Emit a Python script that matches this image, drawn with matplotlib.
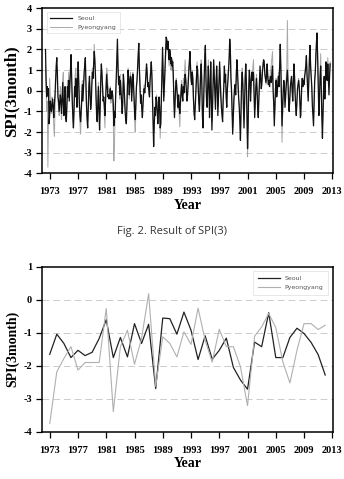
import numpy as np
import matplotlib
matplotlib.use('Agg')
import matplotlib.pyplot as plt

plt.rcParams['axes.unicode_minus'] = False

# monthly SPI(3), one row per 12 months (approximate)
seoul_monthly = [
    2.0, 0.5, -0.3, 0.2, -0.2, 0.1, -1.6, -1.2, -0.5, -0.8, -1.0, -0.6,
    -0.4, -0.9, -1.3, -0.6, -0.2, 0.5, 1.2, 1.6, 0.8, -0.3, -0.5, -1.0,
    -0.6, -0.2, -0.5, -1.1, -0.3, 0.4, -0.6, -1.2, -0.4, 0.2, -1.3, -1.5,
    -0.8, 0.2, -0.3, 0.5, -0.5, 0.3, 1.0, 1.75, 0.6, -0.4, -1.2, -1.8,
    -1.0, 0.2, -0.3, 0.6, 0.3, -0.8, 0.5, 1.4, 0.4, -0.6, -1.2, -1.5,
    -1.0, -0.3, 0.3, -0.5, 0.2, 0.9, 1.2, 1.6, 0.5, -0.7, -1.4, -1.8,
    -0.7, 0.2, 0.7, -0.2, -0.9, -0.6, 0.3, 0.9, 0.6, 1.2, 1.9, 1.5,
    0.8, -0.2, -1.2, -1.5, -0.6, 0.2, -1.0, -1.9, -0.8, 0.6, 1.3, 0.8,
    0.2, -0.5, -0.3, -0.7, -1.2, -0.5, 0.3, 0.8, 0.2, -0.3, -0.2, -0.4,
    -0.3, 0.1, -0.4, -0.3, 0.0, -0.2, -0.6, -1.7, -1.0, -1.3, -0.4, 0.6,
    1.6, 2.5, 1.2, 0.3, 0.7, -0.2, 0.5, 0.0, -0.5, -1.1, -0.6, 0.8,
    0.4, -0.3, -1.0, -1.4, -1.6, -0.8, 0.3, 1.0, 0.6, -0.2, 0.4, 0.7,
    0.6, -0.5, 0.2, 0.8, 0.4, -0.3, -1.0, -1.4, -0.6, 0.2, 0.5, 1.2,
    1.8, 2.3, 1.0, 0.2, -0.6, -0.2, -0.9, -1.3, -0.7, -0.2, 0.1, -0.1,
    0.3, 0.8, 1.3, 0.9, 0.2, 0.4, 0.0, -0.3, 0.5, 0.9, 1.4, 0.8,
    -0.4, -1.5, -2.7, -1.6, -0.8, -1.2, -0.3, -0.5, -1.0, -1.6, -0.9, -0.3,
    -0.8, -1.8, -1.6, -0.4, 1.0, 2.1, 0.8, -0.5, 0.2, 1.0, 1.8, 2.6,
    2.5, 2.0, 2.4, 1.9, 1.5, 2.0, 1.8, 1.3, 1.6, 1.2, 1.4, 0.8,
    -0.4, -1.3, -0.5, 0.2, 0.5, 0.1, -0.3, -0.8, -0.2, -0.7, -1.1, -0.6,
    -0.1, 0.3, -0.2, -0.5, 0.2, -0.1, 0.4, 0.8, 0.5, 0.0, -0.5, -0.2,
    0.3, 0.9, 1.4, 1.9, 1.2, 0.5, 0.3, 0.9, 0.6, -0.4, -1.0, -1.4,
    -0.8, -0.1, 0.6, 1.2, 1.0, 0.2, -0.6, -1.0, -0.2, 0.8, 1.3, 0.4,
    -1.2, -1.8, -0.5, 0.6, 1.6, 2.2, 0.5, -0.5, -0.8, 0.2, 1.2, 0.3,
    -1.3, -0.2, 1.4, -0.3, -1.9, -0.8, 0.4, 1.5, 0.7, -0.2, -0.9, 0.3,
    1.2, 0.2, -1.2, -0.3, 0.6, 1.4, 0.5, -0.3, -0.8, -1.2, -1.5, -0.4,
    0.2, 1.2, 0.4, 0.8, -0.3, -0.8, 0.1, 0.5, 1.0, 1.6, 2.5, 2.0,
    0.6, 0.0, -1.0, -2.1, -1.3, -0.4, 0.1, 0.3, -0.2, 0.6, 1.5, 1.0,
    0.3, -0.3, -0.8, -1.5, -2.4, -0.9, 0.4, 0.9, 0.3, -0.7, -1.8, -0.6,
    0.7, 1.3, 0.4, -1.2, -2.8, -1.6, 0.2, 1.0, 0.5, -0.5, 0.3, 0.9,
    0.5, 0.9, 0.8, -0.2, -1.3, -0.6, 0.2, 0.6, 0.0, -0.8, -1.3, -0.4,
    0.4, 1.2, 0.6, 0.1, 0.3, 0.9, 1.2, 1.5, 1.4, 0.8, 0.6, 0.4,
    0.8, 1.3, 0.6, 0.3, 0.5, 0.2, 0.6, 0.7, 0.4, 0.9, 1.2, 0.0,
    -0.6, -1.7, -0.8, 0.1, 0.5, -0.3, 0.0, 0.4, 0.7, 0.2, 1.3, 2.25,
    1.2, -0.3, -1.7, -0.9, 0.0, 0.5, 0.1, -0.8, -0.3, 0.2, 0.6, 1.0,
    0.4, -0.5, -1.0, -0.4, 0.2, 0.5, 0.7, 0.0, -0.5, 0.4, 1.3, 0.7,
    -0.2, -0.8, -1.2, -0.5, 0.1, 0.3, 0.5, 0.2, -0.5, -1.3, -0.7, 0.2,
    0.6, 0.2, 0.5, 0.3, 0.7, 0.9, 1.2, 1.7, 0.8, 0.1, -0.5, 0.4,
    1.5, 2.2, 1.2, 0.7, 0.2, -0.7, -1.2, -1.7, -0.6, 0.5, 0.9, 1.8,
    2.4, 2.8, 1.5, 0.4, -1.2, -0.4, 0.6, 1.2, 0.2, -1.3, -2.3, -1.0,
    0.2, 0.7, -0.4, 0.3, 1.4, 0.8, 0.5, 1.3, 0.6, -0.2, 0.7, 1.3,
]
pyeongyang_monthly = [
    1.2, 0.3, -1.0, -0.5, -3.7, -1.5, -0.8, 0.6, -0.2, -0.9, -1.1, -0.3,
    -0.5, -1.2, -1.8, -2.2, -0.9, 0.1, 0.9, 1.2, 0.5, -0.5, -0.8, -1.2,
    -0.3, 0.2, -0.8, -1.4, -0.2, 0.6, 0.9, -0.4, -0.8, 0.1, -1.0, -1.2,
    -0.5, 0.5, 0.2, 0.9, 0.0, 0.6, 0.8, 1.2, 0.3, -0.8, -1.5, -1.6,
    -0.7, 0.4, 0.8, 1.1, 0.5, -0.5, 0.3, 1.2, 0.2, -0.9, -1.6, -2.1,
    -1.3, -0.6, 0.5, -0.2, 0.4, 0.6, 0.9, 1.3, 0.1, -0.8, -1.2, -1.5,
    -0.9, 0.4, 0.5, 0.0, -0.6, -0.3, 0.6, 1.1, 0.8, 1.4, 2.25, 1.6,
    0.6, -0.4, -1.0, -1.3, -0.8, 0.4, -0.6, -1.6, -1.0, 0.3, 0.9, 1.0,
    0.4, -0.2, -0.6, -1.2, -1.8, -0.4, 0.7, 1.1, 0.9, 0.3, 0.1, -0.2,
    -0.1, 0.2, -0.6, -0.2, -0.1, -0.5, -1.2, -3.4, -2.6, -1.5, -0.2, 0.4,
    1.0, 2.0, 1.3, 0.5, 0.2, -0.4, 0.8, 0.3, -0.2, -0.9, -0.4, 0.5,
    0.2, -0.5, -0.9, -1.2, -1.3, -0.5, 0.6, 1.1, 0.4, -0.4, 0.5, 0.9,
    0.5, -0.3, 0.4, 0.9, 0.1, -0.8, -1.5, -2.0, -1.2, 0.1, 0.6, 1.0,
    1.3, 1.9, 1.2, 0.5, -0.3, -0.5, -0.6, -1.0, -0.4, 0.0, 0.3, 0.1,
    0.2, 0.6, 1.2, 1.0, 0.4, 0.1, -0.2, 0.2, 0.7, 1.1, 1.3, 0.6,
    -0.2, -1.0, -2.0, -1.8, -1.2, -0.8, -0.6, -0.2, -0.7, -1.4, -1.2, -0.6,
    -1.1, -2.3, -1.5, -0.2, 0.8, 1.6, 0.5, -0.3, -0.1, 0.8, 1.5, 2.3,
    2.2, 2.4, 2.1, 1.6, 1.2, 1.8, 1.5, 1.0, 1.2, 1.0, 1.5, 0.6,
    -0.2, -1.2, -0.8, 0.1, 0.6, 0.3, -0.5, -0.9, -0.6, -1.2, -1.75, -0.8,
    0.1, 0.5, -0.3, -0.2, 0.6, 0.2, 1.0, 1.5, 0.8, 0.1, -0.3, -0.4,
    0.5, 1.2, 1.0, 1.5, 0.9, 0.6, 0.7, 1.0, 0.2, -0.6, -1.2, -1.0,
    -0.5, 0.3, 0.9, 1.4, 0.8, -0.1, -0.5, -0.7, 0.3, 1.0, 1.5, 0.6,
    -0.9, -1.6, -0.8, 0.4, 1.2, 1.8, 0.9, -0.2, -0.6, 0.5, 1.5, 0.6,
    -0.8, 0.3, 1.0, 0.1, -1.5, -1.2, 0.2, 1.2, 1.0, 0.2, -0.6, 0.6,
    0.9, 0.4, -0.8, -0.5, 0.3, 1.1, 0.8, 0.0, -0.5, -1.0, -1.3, -0.6,
    0.0, 0.9, 0.6, 0.5, -0.1, -0.6, -0.1, 0.7, 1.2, 1.4, 2.2, 2.3,
    0.8, 0.2, -0.7, -1.8, -1.5, -0.7, -0.2, 0.2, 0.1, 0.9, 1.3, 0.7,
    0.1, -0.5, -0.6, -1.2, -2.0, -1.2, 0.2, 1.1, 0.6, -0.4, -1.4, -0.9,
    0.4, 1.0, 0.6, -0.9, -3.2, -1.9, -0.3, 0.8, 0.6, -0.3, 0.4, 0.7,
    0.7, 1.2, 1.5, 0.3, -0.9, -0.8, 0.0, 0.8, 0.3, -0.5, -1.0, -0.2,
    0.2, 0.8, 0.9, 0.4, 0.6, 1.1, 1.4, 1.3, 1.2, 1.0, 0.7, 0.3,
    0.6, 1.0, 0.9, 0.5, 0.7, 0.4, 0.8, 1.0, 1.3, 1.6, 1.9, 0.5,
    -0.3, -1.3, -1.0, -0.2, 0.6, 0.1, -0.2, 0.3, 0.9, 0.5, 1.0, 1.6,
    1.0, -0.8, -2.5, -1.2, -0.3, 0.3, 0.4, -0.5, -0.1, 0.5, 1.2, 3.4,
    1.1, -0.2, -0.8, -0.6, 0.1, 0.3, 0.5, 0.3, -0.3, 0.2, 1.0, 0.9,
    0.0, -0.5, -1.0, -0.7, -0.1, 0.4, 0.6, 0.0, -0.3, -1.0, -1.2, -0.2,
    0.4, 0.5, 0.2, 0.6, 0.4, 1.0, 1.4, 1.5, 1.0, 0.3, -0.3, 0.6,
    1.2, 2.0, 1.6, 0.8, 0.4, -0.3, -0.9, -1.3, -0.3, 0.6, 1.0, 1.5,
    2.0, 2.3, 1.8, 0.7, -0.8, -0.2, 0.9, 1.8, 0.6, -0.9, -1.7, -1.2,
    -0.3, 0.5, -0.1, 0.6, 1.2, 1.0, 0.8, 1.6, 1.0, 0.2, 0.9, 1.4,
]

# annual values
years = list(range(1973, 2013))
seoul_annual = [-1.65, -1.04, -1.32, -1.75, -1.53, -1.69, -1.59, -1.17, -0.6, -1.75,
                -1.14, -1.73, -0.72, -1.32, -0.74, -2.69, -0.55, -0.57, -1.04, -0.37,
                -0.92, -1.81, -1.09, -1.8, -1.53, -1.16, -2.05, -2.43, -2.71, -1.28,
                -1.42, -0.39, -1.75, -1.75, -1.14, -0.86, -1.02, -1.29, -1.66, -2.28]
pyeongyang_annual = [-3.75, -2.18, -1.78, -1.42, -2.13, -1.9, -1.9, -1.9, -0.26, -3.39,
                     -1.42, -0.92, -1.95, -1.17, 0.19, -2.62, -1.12, -1.32, -1.73, -0.97,
                     -1.35, -0.25, -1.22, -1.89, -0.89, -1.42, -1.42, -2.03, -3.21, -1.1,
                     -0.82, -0.41, -0.84, -1.88, -2.52, -1.53, -0.72, -0.72, -0.9, -0.77]

xticks = list(range(1973, 2014, 4))

fig = plt.figure(figsize=(3.44, 4.79), dpi=100)
serif = 'Liberation Serif'

def style_axes(ax, ylim, yticks, ylabel_size):
    ax.set_xlim(1971.9, 2013.1)
    ax.set_ylim(*ylim)
    ax.set_xticks(xticks)
    ax.set_yticks(yticks)
    for y in yticks[1:-1]:
        ax.axhline(y, color='#cccccc', lw=0.7, ls=(0, (7, 4)), zorder=0)
    ax.tick_params(direction='out', length=4, width=0.9)
    ax.tick_params(axis='x', pad=6)
    ax.tick_params(axis='y', pad=3)
    for lab in ax.get_xticklabels() + ax.get_yticklabels():
        lab.set_fontfamily(serif)
        lab.set_fontweight('bold')
        lab.set_fontsize(7.5)
    for sp in ax.spines.values():
        sp.set_linewidth(1.1)
    ax.set_xlabel('Year', fontfamily=serif, fontweight='bold', fontsize=10, labelpad=2)
    ax.set_ylabel('SPI(3month)', fontfamily=serif, fontweight='bold',
                  fontsize=ylabel_size, labelpad=3)

# top: monthly
ax1 = fig.add_axes([0.122, 0.638, 0.846, 0.345])
t = np.linspace(1972.4, 2012.7, len(seoul_monthly))
ax1.plot(t, seoul_monthly, color='#111111', lw=0.9, label='Seoul', zorder=3)
ax1.plot(t, pyeongyang_monthly, color='#a8a8a8', lw=0.7, label='Pyeongyang', zorder=2)
style_axes(ax1, (-4, 4), list(range(-4, 5)), 12)
leg = ax1.legend(loc='upper left', fontsize=4.5, frameon=True, fancybox=False,
                 handlelength=3.5, borderpad=0.6, labelspacing=0.5,
                 bbox_to_anchor=(0.005, 0.995))
leg.get_frame().set_edgecolor('#dddddd')
leg.get_frame().set_linewidth(0.6)
for txt in leg.get_texts():
    txt.set_color('#555555')

fig.text(0.5, 1 - 231.7 / 479, 'Fig. 2. Result of SPI(3)', ha='center', va='center',
         fontsize=8, family='Open Sans', color='#333333')

# bottom: annual
ax2 = fig.add_axes([0.122, 0.0987, 0.846, 0.344])
ax2.plot(years, seoul_annual, color='#222222', lw=0.9, label='Seoul')
ax2.plot(years, pyeongyang_annual, color='#b0b0b0', lw=0.8, label='Pyeongyang')
style_axes(ax2, (-4, 1), list(range(-4, 2)), 10)
leg2 = ax2.legend(loc='upper right', fontsize=4.5, frameon=True, fancybox=False,
                  handlelength=3.5, borderpad=0.8, labelspacing=0.6,
                  bbox_to_anchor=(0.995, 0.995))
leg2.get_frame().set_edgecolor('#dddddd')
leg2.get_frame().set_linewidth(0.6)
for txt in leg2.get_texts():
    txt.set_color('#555555')

fig.savefig('out.png', dpi=100)
